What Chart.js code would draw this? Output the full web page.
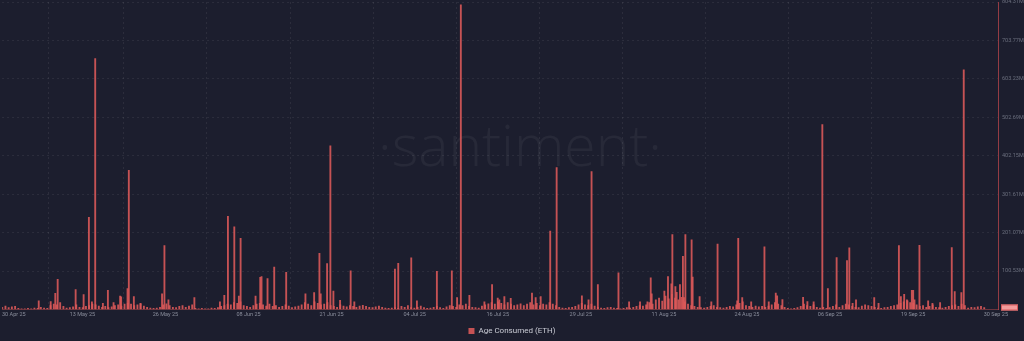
<!DOCTYPE html>
<html lang="en">
<head>
    <meta charset="UTF-8">
    <title>Age Consumed (ETH)</title>
    <script src="https://cdn.jsdelivr.net/npm/chart.js"></script>
    <style>
        html, body {
            margin: 0;
            padding: 0;
            background: #1c1e2e;
        }
        .chart-container {
            width: 1024px;
            height: 341px;
        }
    </style>
</head>
<body>
    <div class="chart-container">
        <canvas id="ageConsumedChart"></canvas>
    </div>

    <script>
        // x values are days counted from 30 Apr 25 00:00, y values in millions
        const tickDays = [2.8, 13.45, 26.35, 39.25, 52.15, 65.05, 77.95, 90.85, 103.75, 116.65, 129.55, 142.45, 155.3];
        const tickLabels = ['30 Apr 25', '13 May 25', '26 May 25', '08 Jun 25', '21 Jun 25', '04 Jul 25', '16 Jul 25',
            '29 Jul 25', '11 Aug 25', '24 Aug 25', '06 Sep 25', '19 Sep 25', '30 Sep 25'];

        const yTickValues = [0, 100.538, 201.077, 301.615, 402.154, 502.692, 603.231, 703.769, 804.308];
        const yTickLabels = ['', '100.53M', '201.07M', '301.61M', '402.15M', '502.69M', '603.23M', '703.77M', '804.31M'];

        // half-day background activity, starting at day 1.0
        const baseStart = 1.0;
        const baseStep = 0.5;
        const baseValues = [
            6, 9, 5, 7, 8, 3, 2, 2, 3, 2, 4, 3, 6, 4, 3, 10, 14, 12, 18, 8,
            4, 5, 7, 12, 6, 5, 8, 10, 14, 12, 9, 6, 8, 5, 7, 10, 12, 9, 14, 16,
            14, 10, 12, 15, 9, 6, 4, 3, 4, 6, 12, 15, 10, 6, 5, 8, 10, 6, 9, 12,
            3, 2, 3, 2, 2, 4, 3, 5, 8, 10, 14, 12, 18, 16, 20, 10, 8, 6, 10, 14,
            16, 12, 9, 14, 8, 10, 6, 8, 12, 9, 5, 7, 9, 12, 18, 14, 10, 20, 16, 12,
            14, 18, 10, 8, 6, 12, 9, 7, 10, 8, 6, 9, 11, 8, 6, 5, 7, 9, 6, 4,
            3, 4, 5, 3, 8, 6, 10, 5, 4, 6, 9, 5, 3, 4, 6, 8, 5, 3, 7, 10,
            8, 6, 12, 10, 14, 8, 6, 5, 4, 9, 12, 15, 18, 14, 20, 16, 12, 18, 14, 10,
            12, 15, 10, 14, 18, 12, 16, 10, 14, 12, 18, 14, 10, 6, 4, 3, 5, 6, 8, 12,
            16, 12, 10, 14, 9, 6, 4, 3, 5, 6, 4, 3, 2, 3, 5, 4, 6, 8, 10, 9,
            12, 18, 14, 25, 30, 22, 35, 28, 40, 30, 25, 32, 20, 14, 10, 8, 6, 5, 4, 6,
            8, 10, 6, 5, 4, 6, 8, 7, 12, 16, 20, 10, 8, 6, 9, 7, 8, 6, 9, 12,
            18, 14, 10, 6, 3, 2, 3, 5, 8, 14, 10, 8, 12, 6, 4, 6, 3, 5, 8, 12,
            6, 10, 14, 12, 8, 6, 5, 9, 12, 10, 8, 6, 4, 3, 5, 6, 8, 10, 12, 16,
            20, 25, 18, 16, 12, 8, 10, 6, 8, 12, 6, 5, 4, 6, 8, 10, 12, 8, 14, 10,
            4, 6, 5, 7, 8, 5
        ];

        // individual spikes
        const spikeDays = [
            6.67, 8.53, 9.24, 9.61, 12.40, 13.64, 14.46, 14.93, 15.44, 16.63, 17.41, 18.29, 19.31, 19.47, 20.46, 20.66,
            21.44, 22.47, 25.82, 26.19, 26.81, 30.84, 34.81, 35.49, 36.05, 37.04, 37.75, 38.02, 40.34, 41.07, 41.27,
            42.20, 43.24, 45.10, 48.09, 49.44, 50.26, 50.46, 51.45, 51.96, 52.43, 53.47, 55.11, 55.68, 61.99, 62.50,
            64.52, 65.40, 68.50, 70.82, 71.64, 72.22, 73.55, 75.88, 77.07, 77.95, 78.20, 78.98, 79.97, 83.27, 83.84,
            84.62, 86.10, 87.10, 91.02, 92.05, 92.52, 93.50, 96.70, 98.35, 100.05, 101.20, 101.71, 101.86, 103.83,
            104.39, 104.92, 105.07, 105.54, 105.74, 106.25, 106.71, 106.87, 107.09, 108.06, 108.22, 109.30, 111.12,
            112.09, 115.14, 115.30, 115.92, 117.31, 119.37, 120.04, 121.13, 121.34, 122.16, 125.37, 126.04, 127.01,
            128.36, 129.22, 130.58, 132.19, 132.55, 133.06, 133.59, 136.42, 137.09, 140.25, 140.56, 141.07, 141.58,
            142.26, 142.47, 142.67, 143.44, 144.79, 145.46, 146.65, 148.46, 148.92, 149.95, 150.32
        ];
        const spikeValues = [
            23, 21, 42, 79, 52, 39, 241, 20, 656, 16, 50, 18, 35, 33, 55, 364,
            34, 16, 41, 167, 25, 31, 20, 37, 244, 216, 35, 186, 35, 84, 86,
            81, 111, 97, 41, 44, 147, 41, 120, 428, 48, 24, 101, 20, 106, 121,
            135, 23, 100, 101, 31, 797, 37, 20, 65, 30, 25, 34, 29, 43, 31,
            34, 205, 371, 36, 25, 361, 65, 96, 20, 20, 20, 83, 41, 48,
            86, 67, 196, 60, 45, 65, 139, 31, 196, 182, 85, 34, 20,
            171, 23, 186, 31, 20, 164, 20, 43, 36, 26, 32, 21, 20,
            484, 55, 136, 128, 161, 16, 25, 31, 16, 167, 34, 40, 23,
            50, 50, 25, 168, 23, 16, 18, 162, 47, 44, 627
        ];

        const points = baseValues.map((v, i) => ({ x: baseStart + i * baseStep, y: v }))
            .concat(spikeDays.map((d, i) => ({ x: d, y: spikeValues[i] })))
            .sort((a, b) => a.x - b.x);

        const gridColor = 'rgba(255, 255, 255, 0.07)';

        // faint brand watermark + last value box
        const decorations = {
            id: 'decorations',
            beforeDatasetsDraw(chart) {
                const ctx = chart.ctx;
                ctx.save();
                ctx.font = '300 57px "Open Sans"';
                ctx.fillStyle = 'rgba(255, 255, 255, 0.05)';
                ctx.textAlign = 'center';
                ctx.textBaseline = 'alphabetic';
                ctx.fillText('·santiment·', 520, 166);
                ctx.restore();
            },
            afterDraw(chart) {
                const ctx = chart.ctx;
                const y = chart.scales.y.getPixelForValue(0);
                ctx.save();
                ctx.fillStyle = '#f29c9c';
                ctx.strokeStyle = '#d8585a';
                ctx.fillRect(1001, y - 5, 17, 6);
                ctx.strokeRect(1001.5, y - 4.5, 16, 5);
                ctx.restore();
            }
        };

        new Chart(document.getElementById('ageConsumedChart'), {
            type: 'bar',
            data: {
                datasets: [{
                    label: 'Age Consumed (ETH)',
                    data: points,
                    backgroundColor: 'rgba(222, 90, 90, 0.88)',
                    borderWidth: 0,
                    barThickness: 1.2
                }]
            },
            options: {
                responsive: true,
                maintainAspectRatio: false,
                animation: false,
                layout: { padding: { left: 0, right: 0, top: 0, bottom: -4 } },
                plugins: {
                    tooltip: { enabled: false },
                    legend: {
                        position: 'bottom',
                        labels: {
                            color: '#c9cbd4',
                            font: { family: 'Roboto', size: 8 },
                            boxWidth: 6,
                            boxHeight: 6,
                            padding: 3.5
                        }
                    }
                },
                scales: {
                    x: {
                        type: 'linear',
                        min: 0.98,
                        max: 155.64,
                        offset: false,
                        afterBuildTicks: scale => {
                            scale.ticks = tickDays.map(v => ({ value: v }));
                        },
                        afterFit: scale => { scale.height = 14; },
                        ticks: {
                            autoSkip: false,
                            maxRotation: 0,
                            padding: 2,
                            color: '#8a8e9c',
                            font: { family: 'Roboto', size: 5.5 },
                            callback: (v, i) => tickLabels[i]
                        },
                        grid: {
                            drawTicks: false,
                            color: c => (c.index === 0 || c.index === tickDays.length - 1) ? 'transparent' : gridColor
                        },
                        border: { display: true, color: 'rgba(200, 80, 80, 0.45)', dash: [2, 3] }
                    },
                    y: {
                        position: 'right',
                        min: 0,
                        max: 804.308,
                        afterBuildTicks: scale => {
                            scale.ticks = yTickValues.map(v => ({ value: v }));
                        },
                        afterFit: scale => {
                            scale.width = 26;
                            scale.paddingTop = 2;
                        },
                        ticks: {
                            padding: 4,
                            color: '#6b6f7e',
                            font: { family: 'Roboto', size: 5.5 },
                            callback: (v, i) => yTickLabels[i]
                        },
                        grid: {
                            drawTicks: false,
                            color: c => c.index === 0 ? 'transparent' : gridColor
                        },
                        border: { display: true, color: 'rgba(200, 72, 78, 0.7)', dash: [2, 3] }
                    }
                }
            },
            plugins: [decorations]
        });
    </script>
</body>
</html>
